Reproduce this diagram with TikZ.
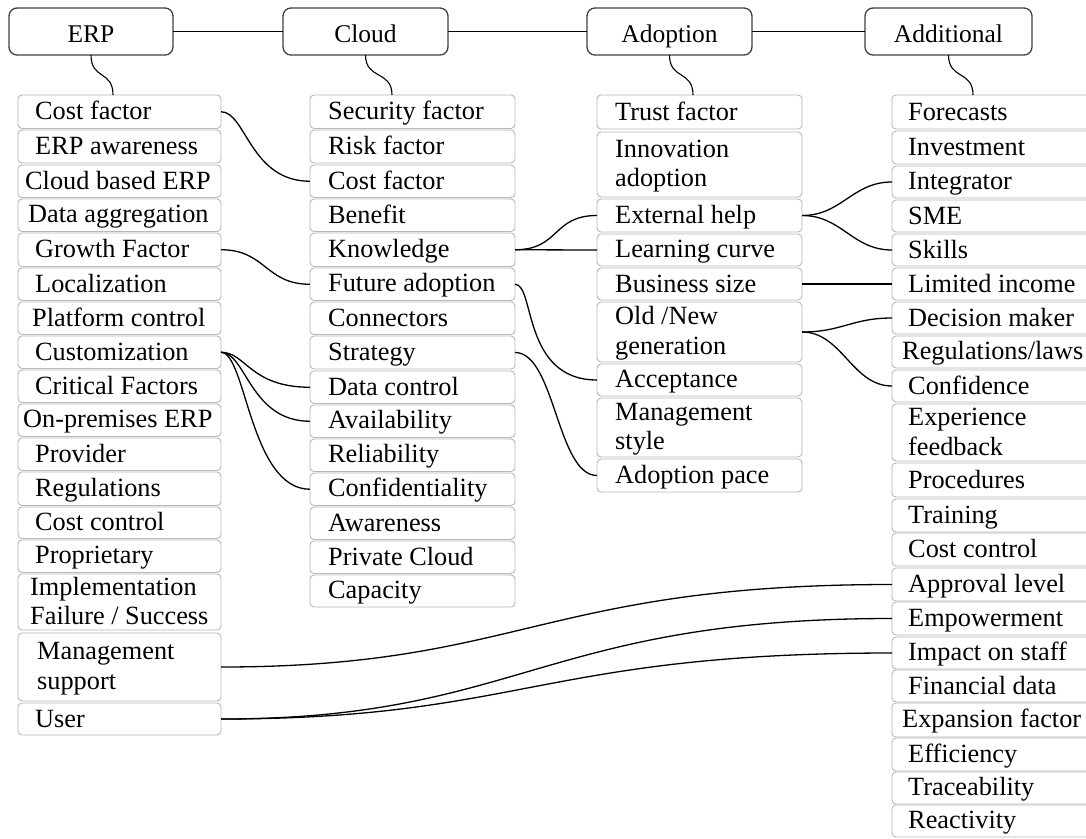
\documentclass[tikz,border=0pt]{standalone}
\usepackage{fontspec}
\setmainfont{Liberation Serif}
\usetikzlibrary{calc}

% fixed line strut so every cell text sits on the same baseline
\newcommand\cellstrut{\rule[-5pt]{0pt}{26pt}}
% one table cell: name, left x, width, top y, height, text indent, text
\newcommand\cellat[7]{%
  \node[cellbox, minimum width=#3pt, minimum height=#5pt,
        label={[celltext, xshift=#6pt]west:{\cellstrut #7\cellstrut}}] (#1) at (#2,#4) {};}

\tikzset{
  cellbox/.style={draw=black!28, line width=0.9pt, rounded corners=4pt, anchor=north west,
    inner sep=0pt, outer sep=0pt},
  celltext/.style={anchor=west, inner sep=0pt, align=left,
    font=\fontsize{26.3}{29.5}\selectfont},
  headbox/.style={draw=black!75, line width=1.3pt, rounded corners=8pt, minimum height=47pt,
    outer sep=0pt, text height=21pt, text depth=0pt, font=\fontsize{25.5}{29}\selectfont},
  link/.style={black, line width=1.3pt},
}

\begin{document}
\begin{tikzpicture}[x=1pt, y=-1pt]
\fill[white] (0,0) rectangle (1086,838);
\useasboundingbox (0,0) rectangle (1086,838);

% group headers
\node[headbox, minimum width=164pt] (erp)   at (91,31.5)    {ERP};
\node[headbox, minimum width=165pt] (cloud) at (365.5,31.5) {Cloud};
\node[headbox, minimum width=165pt] (adop)  at (669.5,31.5) {Adoption};
\node[headbox, minimum width=167pt] (addi)  at (948.5,31.5) {Additional};
\draw[link] (erp.east) -- (cloud.west);
\draw[link] (cloud.east) -- (adop.west);
\draw[link] (adop.east) -- (addi.west);

% ERP factors
\cellat{a1}{18}{203}{95}{33.5}{17}{Cost factor}
\cellat{a2}{18}{203}{130}{33}{17}{ERP awareness}
\cellat{a3}{18}{203}{165}{32.5}{7}{Cloud based ERP}
\cellat{a4}{18}{203}{199}{32.5}{10}{Data aggregation}
\cellat{a5}{18}{203}{233}{33.5}{17}{Growth Factor}
\cellat{a6}{18}{203}{268}{32.5}{17}{Localization}
\cellat{a7}{18}{203}{302}{32.5}{14}{Platform control}
\cellat{a8}{18}{203}{336}{32.5}{17}{Customization}
\cellat{a9}{18}{203}{370}{32.5}{17}{Critical Factors}
\cellat{a10}{18}{203}{404}{32.5}{5}{On-premises ERP}
\cellat{a11}{18}{203}{438}{32.5}{17}{Provider}
\cellat{a12}{18}{203}{472}{33.5}{17}{Regulations}
\cellat{a13}{18}{203}{507}{31.5}{17}{Cost control}
\cellat{a14}{18}{203}{540}{32.5}{17}{Proprietary}
\cellat{a15}{18}{203}{574}{56}{12}{Implementation\\Failure / Success}
\cellat{a16}{18}{203}{633}{68}{19}{Management\\support}
\cellat{a17}{18}{203}{703}{32}{17}{User}

% Cloud factors
\cellat{b1}{310}{205}{95}{33.5}{18}{Security factor}
\cellat{b2}{310}{205}{130}{33}{18}{Risk factor}
\cellat{b3}{310}{205}{165}{32.5}{18}{Cost factor}
\cellat{b4}{310}{205}{199}{32.5}{18}{Benefit}
\cellat{b5}{310}{205}{233}{33.5}{18}{Knowledge}
\cellat{b6}{310}{205}{268}{32.5}{18}{Future adoption}
\cellat{b7}{310}{205}{302}{32.5}{18}{Connectors}
\cellat{b8}{310}{205}{336}{33}{18}{Strategy}
\cellat{b9}{310}{205}{371}{32.5}{18}{Data control}
\cellat{b10}{310}{205}{405}{32.5}{18}{Availability}
\cellat{b11}{310}{205}{439}{32.5}{18}{Reliability}
\cellat{b12}{310}{205}{473}{32.5}{18}{Confidentiality}
\cellat{b13}{310}{205}{507}{32.5}{18}{Awareness}
\cellat{b14}{310}{205}{541}{32.5}{18}{Private Cloud}
\cellat{b15}{310}{205}{575}{32}{18}{Capacity}

% Adoption factors
\cellat{c1}{597}{205}{95}{34}{18}{Trust factor}
\cellat{c2}{597}{205}{132}{65}{18}{Innovation\\adoption}
\cellat{c3}{597}{205}{199}{33}{18}{External help}
\cellat{c4}{597}{205}{234}{32}{18}{Learning curve}
\cellat{c5}{597}{205}{268}{32}{18}{Business size}
\cellat{c6}{597}{205}{302}{60}{18}{Old /New\\generation}
\cellat{c7}{597}{205}{364}{32}{18}{Acceptance}
\cellat{c8}{597}{205}{398}{59}{18}{Management\\style}
\cellat{c9}{597}{205}{459}{33}{18}{Adoption pace}

% Additional factors
\cellat{d1}{892}{230}{95}{34}{16}{Forecasts}
\cellat{d2}{892}{230}{131}{33}{16}{Investment}
\cellat{d3}{892}{230}{166}{32}{16}{Integrator}
\cellat{d4}{892}{230}{200}{32}{16}{SME}
\cellat{d5}{892}{230}{234}{32}{16}{Skills}
\cellat{d6}{892}{230}{268}{32}{16}{Limited income}
\cellat{d7}{892}{230}{302}{32}{16}{Decision maker}
\cellat{d8}{892}{230}{336}{32}{10}{Regulations/laws}
\cellat{d9}{892}{230}{370}{32}{16}{Confidence}
\cellat{d10}{892}{230}{404}{57}{16}{Experience\\feedback}
\cellat{d11}{892}{230}{463}{34}{16}{Procedures}
\cellat{d12}{892}{230}{499}{33}{16}{Training}
\cellat{d13}{892}{230}{533}{33}{16}{Cost control}
\cellat{d14}{892}{230}{568}{33}{16}{Approval level}
\cellat{d15}{892}{230}{602}{33}{16}{Empowerment}
\cellat{d16}{892}{230}{637}{32}{16}{Impact on staff}
\cellat{d17}{892}{230}{670}{32}{16}{Financial data}
\cellat{d18}{892}{230}{703}{34}{10}{Expansion factor}
\cellat{d19}{892}{230}{738}{33}{16}{Efficiency}
\cellat{d20}{892}{230}{772}{32}{16}{Traceability}
\cellat{d21}{892}{230}{805}{32}{16}{Reactivity}

% header-to-column connectors
\path (a1.north west) ++(95,0) coordinate (ta);
\path (b1.north west) ++(82,0) coordinate (tb);
\path (c1.north west) ++(96,0) coordinate (tc);
\path (d1.north west) ++(81,0) coordinate (td);
\draw[link, line width=1.1pt] (erp.south)   .. controls +(0,25) and +(0,-25) .. (ta);
\draw[link, line width=1.1pt] (cloud.south) .. controls +(0,25) and +(0,-25) .. (tb);
\draw[link, line width=1.1pt] (adop.south)  .. controls +(0,25) and +(0,-25) .. (tc);
\draw[link, line width=1.1pt] (addi.south)  .. controls +(0,25) and +(0,-25) .. (td);

% ERP -> Cloud
\draw[link] (a1.east) .. controls +(25,0) and +(-60,0) .. (b3.west);
\draw[link] (a5.east) .. controls +(45,0) and +(-45,0) .. (b6.west);
\foreach \t in {b9,b10,b12}
  \draw[link] (a8.east) .. controls +(25,0) and +(-60,0) .. (\t.west);

% Cloud -> Adoption
\draw[link] (b5.east) -- (c4.west);
\draw[link] (b5.east) .. controls +(45,0) and +(-45,0) .. (c3.west);
\draw[link] (b6.east) .. controls +(20,0) and +(-75,0) .. (c7.west);
\draw[link] (b8.east) .. controls +(40,0) and +(-40,0) .. (c9.west);

% Adoption -> Additional
\draw[link] (c3.east) .. controls +(40,0) and +(-40,0) .. (d3.west);
\draw[link] (c3.east) .. controls +(40,0) and +(-40,0) .. (d5.west);
\draw[link] (c5.east) -- (d6.west);
\draw[link] (c6.east) .. controls +(40,0) and +(-40,0) .. (d7.west);
\draw[link] (c6.east) .. controls +(40,0) and +(-40,0) .. (d9.west);

% ERP -> Additional
\draw[link] (a16.east) .. controls +(300,0) and +(-350,0) .. (d14.west);
\draw[link] (a17.east) .. controls +(300,0) and +(-350,0) .. (d15.west);
\draw[link] (a17.east) .. controls +(300,0) and +(-350,0) .. (d16.west);
\end{tikzpicture}
\end{document}
